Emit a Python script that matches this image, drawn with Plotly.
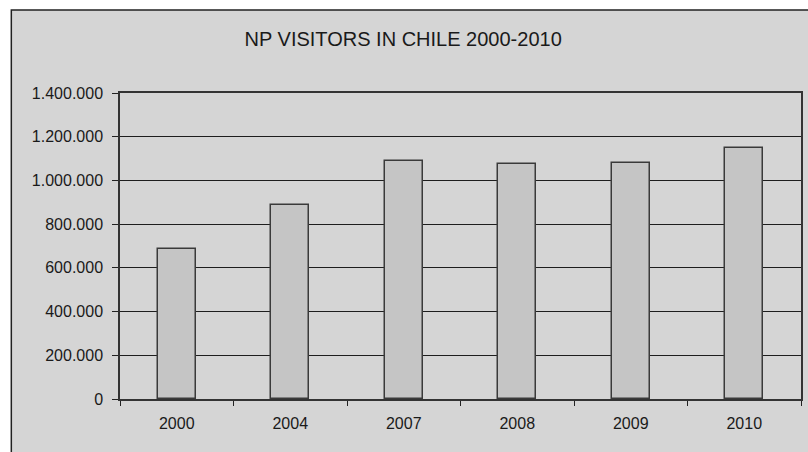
import plotly.graph_objects as go

years = ["2000", "2004", "2007", "2008", "2009", "2010"]
visitors = [686000, 887000, 1091000, 1073000, 1079000, 1149000]
y_ticks = [0, 200000, 400000, 600000, 800000, 1000000, 1200000, 1400000]
title_text = "NP VISITORS IN CHILE 2000-2010"

L, R, T, B = 120, 5, 93, 53
W, H = 808, 452
pw, ph = W - L - R, H - T - B

fig = go.Figure()
fig.add_trace(go.Bar(
    x=years, y=visitors, width=0.335,
    marker=dict(color="#c5c5c5", line=dict(color="#3a3a3a", width=1.5)),
))

# outer chart frame (screenshot-like border)
fig.add_shape(type="rect", xref="paper", yref="paper", layer="below",
              x0=(11 - L) / pw, x1=(830 - L) / pw,
              y0=(H - T - 470) / ph, y1=(H - B - 10) / ph,
              fillcolor="#d5d5d5", line=dict(color="#222222", width=1.5))

fig.update_layout(
    width=W, height=H,
    margin=dict(l=L, r=R, t=T, b=B),
    paper_bgcolor="white", plot_bgcolor="white",
    separators=",.",
    showlegend=False,
    bargap=0.0,
    title=dict(text=title_text, x=(404 - L) / pw, xref="paper", xanchor="center",
               y=(H - 39) / H, yanchor="middle",
               font=dict(family="Liberation Sans, Arial", size=20, color="#1a1a1a")),
    font=dict(family="Liberation Sans, Arial", size=16, color="#1a1a1a"),
)
fig.update_xaxes(
    type="category", tickson="boundaries", ticks="outside", ticklen=5,
    tickcolor="#222", showgrid=False, showline=True, linecolor="#333",
    linewidth=1.5, mirror=True, tickfont=dict(size=16), ticklabelstandoff=9,
)
fig.update_yaxes(
    range=[0, 1400000], tickvals=y_ticks, tickformat=",d",
    ticks="outside", ticklen=6, tickcolor="#222",
    showgrid=True, gridcolor="#1e1e1e", gridwidth=1.2,
    showline=True, linecolor="#333", linewidth=1.5, mirror=True,
    zeroline=False, tickfont=dict(size=16), ticklabelstandoff=6,
)

fig.write_html("out.html")
